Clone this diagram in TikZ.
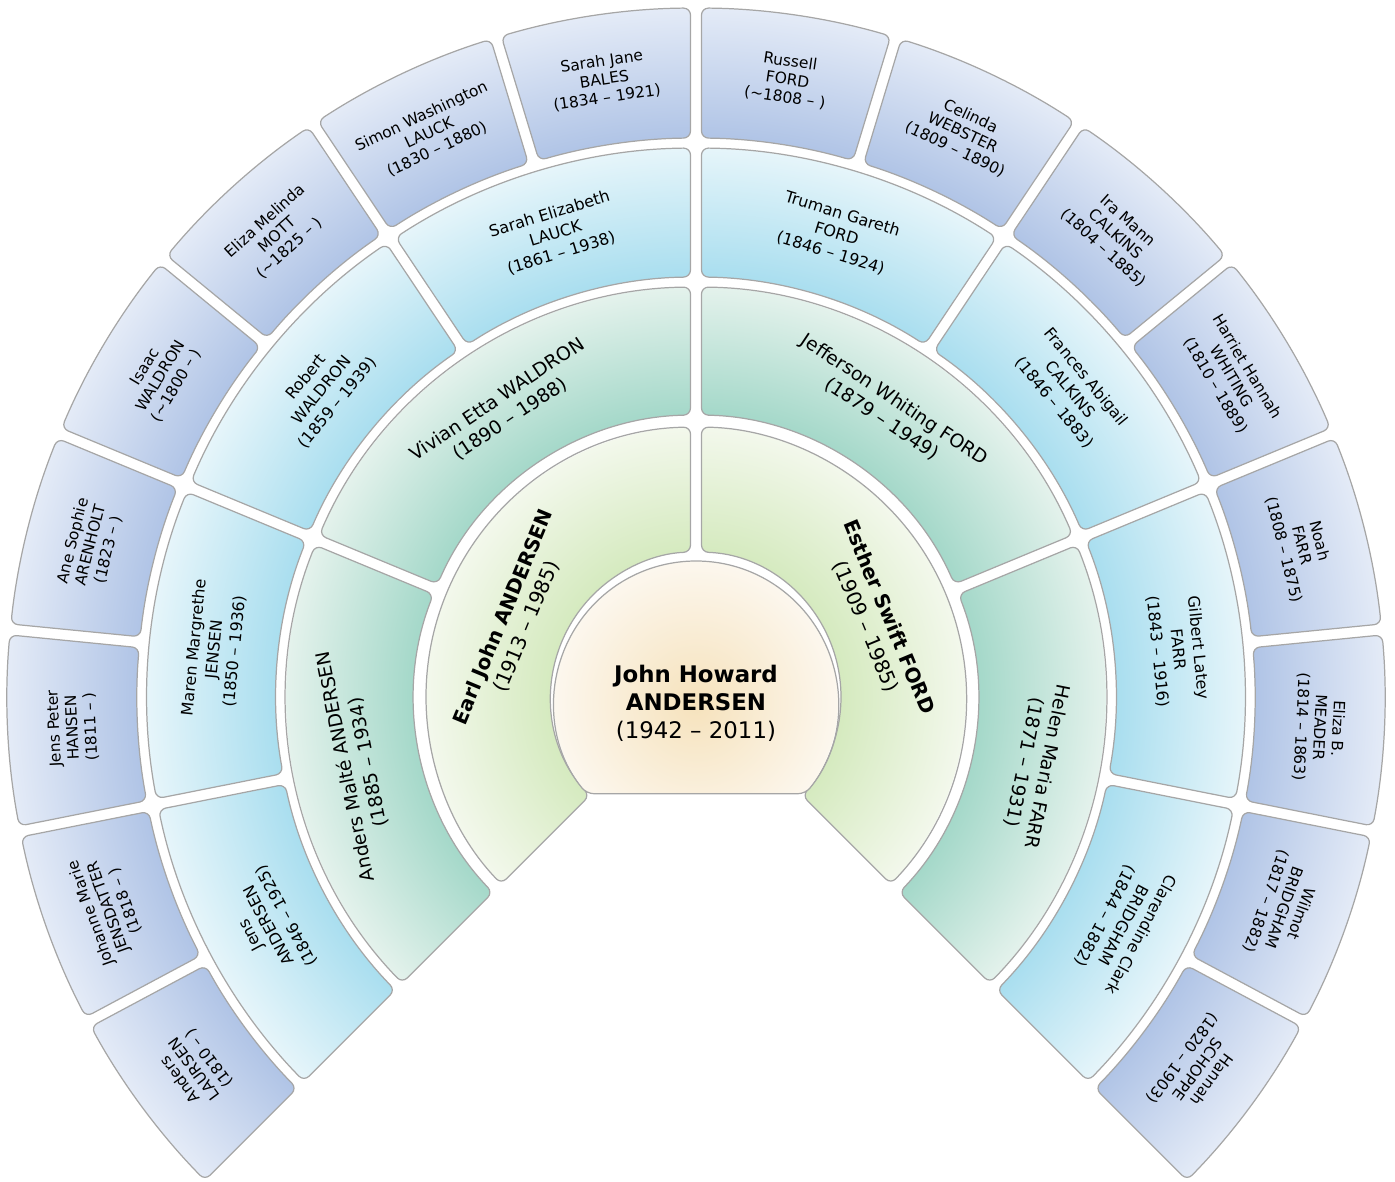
\documentclass[tikz,border=0pt]{standalone}
\usepackage{fontspec}
\setmainfont{DejaVu Sans}

\definecolor{gfourin}{HTML}{B0C4E6}
\definecolor{gfourout}{HTML}{E4EBF7}
\definecolor{gthreein}{HTML}{A9DEEF}
\definecolor{gthreeout}{HTML}{E6F5FA}
\definecolor{gtwoin}{HTML}{A4D8C9}
\definecolor{gtwoout}{HTML}{E4F2EC}
\definecolor{gonein}{HTML}{D5EABF}
\definecolor{goneout}{HTML}{F3F8EC}
\definecolor{rootin}{HTML}{F6E2BC}
\definecolor{rootout}{HTML}{FCF7EE}
\definecolor{segline}{HTML}{A6A6A6}

\pgfdeclareradialshading{genfour}{\pgfpoint{0bp}{0bp}}{color(0bp)=(gfourin); color(20.28bp)=(gfourin); color(25bp)=(gfourout); color(50bp)=(gfourout)}
\pgfdeclareradialshading{genthree}{\pgfpoint{0bp}{0bp}}{color(0bp)=(gthreein); color(19.13bp)=(gthreein); color(25bp)=(gthreeout); color(50bp)=(gthreeout)}
\pgfdeclareradialshading{gentwo}{\pgfpoint{0bp}{0bp}}{color(0bp)=(gtwoin); color(17.2bp)=(gtwoin); color(25bp)=(gtwoout); color(50bp)=(gtwoout)}
\pgfdeclareradialshading{genone}{\pgfpoint{0bp}{0bp}}{color(0bp)=(gonein); color(13.43bp)=(gonein); color(25bp)=(goneout); color(50bp)=(goneout)}

% one box of the fan: angles #1 < #2, radii #3 < #4
\newcommand{\fanseg}[4]{%
  ({#1+asin(5.5/((#3+#4)/2))}:{(#3+#4)/2}) -- ({#1+asin(5.5/#4)}:#4)
  arc[start angle={#1+asin(5.5/#4)}, end angle={#2-asin(5.5/#4)}, radius=#4]
  -- ({#2-asin(5.5/#3)}:#3)
  arc[start angle={#2-asin(5.5/#3)}, end angle={#1+asin(5.5/#3)}, radius=#3]
  -- cycle}

\tikzset{segbox/.style = {draw = segline,
                          line width = 0.7pt,
                          rounded corners = 4pt},
         gentext/.style = {align = center,
                           inner sep = 0pt,
                           text = black}}

\begin{document}
\begin{tikzpicture}[x = 0.02cm, y = 0.02cm,
                    gfourtext/.style = {gentext, font = \fontsize{8.8}{10.4}\selectfont},
                    gthreetext/.style = {gentext, font = \fontsize{9.1}{11.6}\selectfont},
                    gtwotext/.style = {gentext, font = \fontsize{10.7}{13.2}\selectfont},
                    gonetext/.style = {gentext, font = \fontsize{11.4}{14.2}\selectfont},
                    roottext/.style = {gentext, font = \fontsize{13}{15.9}\selectfont}]
	\useasboundingbox (-696,-485) rectangle (699,697);

	% great-grandparents
	\foreach \who [count=\i from 0] in {{Anders\\LAURSEN\\(1810 – )},
	                                    {Johanne Marie\\JENSDATTER\\(1818 – )},
	                                    {Jens Peter\\HANSEN\\(1811 – )},
	                                    {Ane Sophie\\ARENHOLT\\(1823 – )},
	                                    {Isaac\\WALDRON\\(\textasciitilde 1800 – )},
	                                    {Eliza Melinda\\MOTT\\(\textasciitilde 1825 – )},
	                                    {Simon Washington\\LAUCK\\(1830 – 1880)},
	                                    {Sarah Jane\\BALES\\(1834 – 1921)},
	                                    {Russell\\FORD\\(\textasciitilde 1808 – )},
	                                    {Celinda\\WEBSTER\\(1809 – 1890)},
	                                    {Ira Mann\\CALKINS\\(1804 – 1885)},
	                                    {Harriet Hannah\\WHITING\\(1810 – 1889)},
	                                    {Noah\\FARR\\(1808 – 1875)},
	                                    {Eliza B.\\MEADER\\(1814 – 1863)},
	                                    {Wilmot\\BRIDGHAM\\(1817 – 1882)},
	                                    {Hannah\\SCHOPPE\\(1820 – 1903)}}{
		\pgfmathsetmacro{\ta}{225-(\i+1)*16.875}
		\pgfmathsetmacro{\tb}{225-\i*16.875}
		\pgfmathsetmacro{\tm}{(\ta+\tb)/2}
		\begin{scope}
			\clip[rounded corners = 4pt] \fanseg{\ta}{\tb}{559}{689};
			\shade[shading = genfour] (0,0) circle (689);
		\end{scope}
		\draw[segbox] \fanseg{\ta}{\tb}{559}{689};
		\node[gfourtext, rotate = \tm-90] (gg\i) at (\tm:624) {\who};
	}

	% grandparents' parents
	\foreach \who [count=\i from 0] in {{Jens\\ANDERSEN\\(1846 – 1925)},
	                                    {Maren Margrethe\\JENSEN\\(1850 – 1936)},
	                                    {Robert\\WALDRON\\(1859 – 1939)},
	                                    {Sarah Elizabeth\\LAUCK\\(1861 – 1938)},
	                                    {Truman Gareth\\FORD\\(1846 – 1924)},
	                                    {Frances Abigail\\CALKINS\\(1846 – 1883)},
	                                    {Gilbert Latey\\FARR\\(1843 – 1916)},
	                                    {Clarendine Clark\\BRIDGHAM\\(1844 – 1882)}}{
		\pgfmathsetmacro{\ta}{225-(\i+1)*33.75}
		\pgfmathsetmacro{\tb}{225-\i*33.75}
		\pgfmathsetmacro{\tm}{(\ta+\tb)/2}
		\begin{scope}
			\clip[rounded corners = 4pt] \fanseg{\ta}{\tb}{420}{549};
			\shade[shading = genthree] (0,0) circle (549);
		\end{scope}
		\draw[segbox] \fanseg{\ta}{\tb}{420}{549};
		\node[gthreetext, rotate = \tm-90] (g\i) at (\tm:484) {\who};
	}

	% grandparents
	\foreach \who [count=\i from 0] in {{Anders Malté ANDERSEN\\(1885 – 1934)},
	                                    {Vivian Etta WALDRON\\(1890 – 1988)},
	                                    {Jefferson Whiting FORD\\(1879 – 1949)},
	                                    {Helen Maria FARR\\(1871 – 1931)}}{
		\pgfmathsetmacro{\ta}{225-(\i+1)*67.5}
		\pgfmathsetmacro{\tb}{225-\i*67.5}
		\pgfmathsetmacro{\tm}{(\ta+\tb)/2}
		\begin{scope}
			\clip[rounded corners = 4pt] \fanseg{\ta}{\tb}{282}{410};
			\shade[shading = gentwo] (0,0) circle (410);
		\end{scope}
		\draw[segbox] \fanseg{\ta}{\tb}{282}{410};
		\node[gtwotext, rotate = \tm-90] (p\i) at (\tm:346) {\who};
	}

	% parents
	\foreach \who [count=\i from 0] in {{\textbf{Earl John ANDERSEN}\\(1913 – 1985)},
	                                    {\textbf{Esther Swift FORD}\\(1909 – 1985)}}{
		\pgfmathsetmacro{\ta}{225-(\i+1)*135}
		\pgfmathsetmacro{\tb}{225-\i*135}
		\pgfmathsetmacro{\tm}{(\ta+\tb)/2}
		\begin{scope}
			\clip[rounded corners = 4pt] \fanseg{\ta}{\tb}{145}{270};
			\shade[shading = genone] (0,0) circle (270);
		\end{scope}
		\draw[segbox] \fanseg{\ta}{\tb}{145}{270};
		\node[gonetext, rotate = \tm-90] (m\i) at (\tm:196) {\who};
	}

	% root person
	\begin{scope}
		\clip[rounded corners = 4pt] (0,-6) ++(-39.7:142) arc[start angle=-39.7, end angle=219.7, radius=142] -- cycle;
		\shade[inner color = rootin, outer color = rootout] (0,-6) circle (142);
	\end{scope}
	\draw[segbox] (0,-6) ++(-39.7:142) arc[start angle=-39.7, end angle=219.7, radius=142] -- cycle;
	\node[roottext] (root) at (0,-6) {\textbf{John Howard}\\\textbf{ANDERSEN}\\(1942 – 2011)};
\end{tikzpicture}
\end{document}
